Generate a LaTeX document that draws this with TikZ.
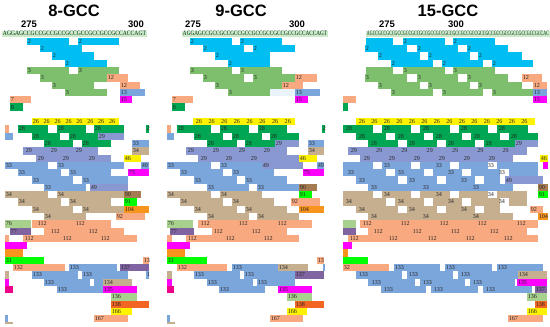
\documentclass[tikz,border=0pt]{standalone}
\usepackage{fontspec}
\usepackage{graphicx}
\newfontfamily\headfont{Liberation Sans}
\newfontfamily\labfont{Liberation Serif}

\definecolor{pepcyan}{HTML}{00BDF2}
\definecolor{pepgreen}{HTML}{7DBF6C}
\definecolor{pepdkgreen}{HTML}{00A651}
\definecolor{pepyel}{HTML}{FFF200}
\definecolor{pepperi}{HTML}{8A98D2}
\definecolor{pepblue}{HTML}{7BA6DC}
\definecolor{peptan}{HTML}{C6AF8F}
\definecolor{pepsalmon}{HTML}{F9A97F}
\definecolor{pepmag}{HTML}{FF00FF}
\definecolor{pepbrown}{HTML}{A57C52}
\definecolor{peplime}{HTML}{00FF00}
\definecolor{peporange}{HTML}{F7941D}
\definecolor{peppurple}{HTML}{8064A2}
\definecolor{pepltgreen}{HTML}{A9D18E}
\definecolor{pepredor}{HTML}{F26522}
\definecolor{pepdpink}{HTML}{EC008C}
\definecolor{peppale}{HTML}{EAF3FA}
\definecolor{seqbg}{HTML}{CDE9C8}

\tikzset{
  lab/.style={anchor=west,inner sep=0.6pt,text=black!85,font=\labfont\fontsize{6.1}{6.5}\selectfont},
  head/.style={font=\headfont\bfseries\fontsize{16.5}{18}\selectfont},
  posmark/.style={font=\headfont\bfseries\fontsize{9.5}{10}\selectfont},
  seq/.style={inner sep=0pt,text=black!70!pepdkgreen,font=\labfont}
}
% one row of the map is 7.3 high, row 0 starts at 37.7
\newcommand\band[4]{\fill[#4] ({#1},{37.7+7.3*(#3)}) rectangle ({#2},{45+7.3*(#3)});}
\newcommand\numat[3]{\node[lab] at ({#1},{41.35+7.3*(#2)}) {#3};}
\newcommand\pep[5]{\band{#1}{#2}{#3}{#4}\numat{#1}{#3}{#5}}
\newcommand\nums[3]{\foreach \h in {#1} {\numat{\h}{#2}{#3}}}
\newcommand\holes[3]{\foreach \h in {#1} {\fill[white] (\h,{37.7+7.3*(#3)}) rectangle ({\h+#2},{45+7.3*(#3)});}}

\begin{document}
\begin{tikzpicture}[x=1pt,y=-1pt]
\useasboundingbox (0,0) rectangle (550,327);

% 8-GCC
\node[head] (t1) at (74,11) {8-GCC};
\node[posmark] (p1a) at (29,24) {275};
\node[posmark] (p1b) at (136,24) {300};
\fill[seqbg] (2,30.5) rectangle (147,36.8);
\node[seq] (s1) at (74.5,33.7) {\resizebox{143pt}{4.6pt}{AGGAGCCGCCGCCGCCGCCGCCGCCGCCGCCACCAGT}};

\pep{27}{69}{0}{pepcyan}{2} \pep{78}{119}{0}{pepcyan}{2}
\pep{40}{82}{1}{pepcyan}{2}
\pep{52}{94}{2}{pepcyan}{2}
\pep{65}{107}{3}{pepcyan}{2}
\pep{27}{69}{4}{pepgreen}{3} \pep{78}{119}{4}{pepgreen}{3}
\pep{40}{107}{5}{pepgreen}{3} \pep{107}{128}{5}{pepsalmon}{12}
\pep{52}{94}{6}{pepgreen}{3} \pep{120}{140}{6}{pepsalmon}{12}
\pep{65}{107}{7}{pepgreen}{3} \pep{120}{145}{7}{pepblue}{13}
\pep{10}{31}{8}{pepsalmon}{7} \pep{120}{132}{8}{pepmag}{15}
\pep{10}{23}{9}{pepdkgreen}{8}

\band{32}{119}{11}{pepyel}
\foreach \k in {0,...,7} {\numat{32+10.9*\k}{11}{26}}
\band{5}{9}{12}{pepsalmon} \pep{18}{48}{12}{pepdkgreen}{28} \pep{57}{86}{12}{pepdkgreen}{28} \pep{94}{124}{12}{pepdkgreen}{28} \pep{146}{149}{12}{pepdkgreen}{2}
\band{5}{13}{13}{pepblue} \pep{32}{60}{13}{pepdkgreen}{28} \pep{69}{98}{13}{pepdkgreen}{28} \pep{98}{124}{13}{pepperi}{29}
\pep{44}{73}{14}{pepdkgreen}{28} \pep{82}{111}{14}{pepdkgreen}{28} \pep{132}{149}{14}{pepblue}{33}
\band{23}{98}{15}{pepperi} \nums{25,50,75}{15}{29} \pep{132}{149}{15}{peptan}{34}
\band{36}{111}{16}{pepperi} \nums{37,62,88}{16}{29} \pep{124}{141}{16}{pepyel}{46}
\pep{5}{48}{17}{pepblue}{33} \pep{57}{124}{17}{pepblue}{33} \pep{141}{149}{17}{pepblue}{49}
\pep{18}{61}{18}{pepblue}{33} \pep{69}{111}{18}{pepblue}{33} \pep{128}{149}{18}{pepmag}{75}
\pep{32}{73}{19}{pepblue}{33} \pep{82}{128}{19}{pepblue}{33}
\pep{44}{86}{20}{pepblue}{33} \pep{90}{128}{20}{pepperi}{49}
\pep{5}{48}{21}{peptan}{34} \pep{57}{124}{21}{peptan}{34} \pep{124}{141}{21}{pepbrown}{90}
\pep{18}{61}{22}{peptan}{34} \pep{69}{111}{22}{peptan}{34} \pep{124}{137}{22}{peplime}{91}
\pep{32}{73}{23}{peptan}{34} \pep{82}{124}{23}{peptan}{34} \pep{124}{149}{23}{peporange}{104}
\pep{44}{86}{24}{peptan}{34} \pep{116}{145}{24}{pepsalmon}{92}
\pep{5}{31}{25}{pepltgreen}{76} \band{32}{111}{25}{pepsalmon} \nums{37,75}{25}{112}
\pep{10}{31}{26}{peppurple}{77} \band{44}{124}{26}{pepsalmon} \nums{50,88}{26}{112}
\band{5}{9}{27}{pepsalmon} \band{23}{137}{27}{pepsalmon} \nums{24,62,100}{27}{112}
\band{5}{27}{28}{pepmag}
\band{5}{23}{29}{peporange}
\pep{5}{44}{30}{peplime}{31} \pep{143}{149}{30}{pepsalmon}{13}
\pep{13}{65}{31}{pepsalmon}{132} \pep{69}{117}{31}{pepblue}{133} \pep{120}{149}{31}{peppurple}{137}
\band{5}{9}{32}{peptan} \pep{32}{78}{32}{pepblue}{133} \pep{82}{128}{32}{pepblue}{133} \pep{146}{149}{32}{pepblue}{1}
\band{5}{9}{33}{pepmag} \pep{44}{90}{33}{pepblue}{133} \band{94}{103}{33}{pepblue} \pep{103}{132}{33}{peptan}{134}
\band{5}{13}{34}{pepdpink} \pep{57}{103}{34}{pepblue}{133} \pep{103}{137}{34}{pepmag}{135}
\pep{111}{137}{35}{pepltgreen}{136}
\pep{111}{149}{36}{pepredor}{138}
\pep{111}{132}{37}{pepyel}{166}
\band{5}{8}{38}{pepblue} \fill[peptan] (5,322.4) rectangle (13,324);
\pep{94}{128}{38}{pepsalmon}{167}

% 9-GCC
\node[head] (t2) at (241,11) {9-GCC};
\node[posmark] (p2a) at (193,24) {275};
\node[posmark] (p2b) at (297,24) {300};
\fill[seqbg] (182,30.5) rectangle (328,36.8);
\node[seq] (s2) at (255,33.7) {\resizebox{144pt}{4.6pt}{AGGAGCCGCCGCCGCCGCCGCCGCCGCCGCCGCCACCAGT}};

\pep{190}{232}{0}{pepcyan}{2} \pep{240}{282}{0}{pepcyan}{2}
\pep{203}{244}{1}{pepcyan}{2} \pep{253}{295}{1}{pepcyan}{2}
\pep{215}{270}{2}{pepcyan}{2}
\pep{228}{270}{3}{pepcyan}{2}
\pep{190}{232}{4}{pepgreen}{3} \pep{240}{282}{4}{pepgreen}{3}
\pep{203}{244}{5}{pepgreen}{3} \pep{253}{295}{5}{pepgreen}{3} \pep{295}{317}{5}{pepsalmon}{12}
\pep{215}{282}{6}{pepgreen}{3} \pep{282}{303}{6}{pepsalmon}{12}
\pep{228}{270}{7}{pepgreen}{3} \band{270}{295}{7}{peppale} \pep{295}{320}{7}{pepblue}{13}
\pep{172}{193}{8}{pepsalmon}{7} \pep{295}{308}{8}{pepmag}{15}
\pep{172}{185}{9}{pepdkgreen}{8}

\band{193}{295}{11}{pepyel}
\foreach \k in {0,...,7} {\numat{195+12.7*\k}{11}{26}}
\band{167}{171}{12}{pepsalmon} \pep{177}{211}{12}{pepdkgreen}{28} \pep{220}{249}{12}{pepdkgreen}{28} \pep{258}{287}{12}{pepdkgreen}{28} \pep{322}{325}{12}{pepdkgreen}{2}
\band{167}{174}{13}{pepblue} \pep{194}{223}{13}{pepdkgreen}{28} \pep{232}{262}{13}{pepdkgreen}{28} \pep{270}{299}{13}{pepdkgreen}{28}
\pep{207}{237}{14}{pepdkgreen}{28} \pep{245}{275}{14}{pepdkgreen}{28} \pep{275}{299}{14}{pepperi}{29} \pep{308}{324}{14}{pepblue}{33}
\band{186}{287}{15}{pepperi} \nums{187,212,238,263}{15}{29} \pep{308}{324}{15}{peptan}{34}
\band{198}{299}{16}{pepperi} \nums{200,225,250}{16}{29} \pep{299}{317}{16}{pepyel}{46}
\pep{167}{211}{17}{pepblue}{33} \pep{220}{262}{17}{pepblue}{33} \pep{262}{303}{17}{pepperi}{49} \pep{317}{324}{17}{pepblue}{49}
\pep{180}{223}{18}{pepblue}{33} \pep{232}{274}{18}{pepblue}{33} \pep{303}{324}{18}{pepmag}{75}
\pep{194}{237}{19}{pepblue}{33} \pep{245}{287}{19}{pepblue}{33}
\pep{207}{249}{20}{pepblue}{33} \pep{257}{299}{20}{pepblue}{33} \pep{299}{317}{20}{pepbrown}{90}
\pep{167}{211}{21}{peptan}{34} \pep{220}{262}{21}{peptan}{34} \pep{299}{312}{21}{peplime}{91}
\pep{180}{223}{22}{peptan}{34} \pep{232}{274}{22}{peptan}{34} \pep{291}{320}{22}{pepsalmon}{92}
\pep{194}{237}{23}{peptan}{34} \pep{245}{287}{23}{peptan}{34} \pep{299}{324}{23}{peporange}{104}
\pep{207}{249}{24}{peptan}{34} \pep{257}{299}{24}{peptan}{34}
\pep{167}{193}{25}{pepltgreen}{76} \band{198}{312}{25}{pepsalmon} \nums{200,238,277}{25}{112}
\pep{170}{194}{26}{peppurple}{77} \band{212}{287}{26}{pepsalmon} \nums{213,251}{26}{112}
\band{167}{172}{27}{pepsalmon} \band{186}{299}{27}{pepsalmon} \nums{187,225,263}{27}{112}
\band{167}{190}{28}{pepmag}
\band{167}{185}{29}{peporange}
\pep{167}{207}{30}{peplime}{31} \pep{317}{324}{30}{pepsalmon}{13}
\pep{177}{227}{31}{pepsalmon}{132} \pep{232}{278}{31}{pepblue}{133} \pep{278}{308}{31}{peptan}{134} \band{323}{325}{31}{pepblue}
\band{167}{172}{32}{peptan} \pep{194}{240}{32}{pepblue}{133} \pep{244}{295}{32}{pepblue}{133} \pep{295}{324}{32}{peppurple}{137}
\band{167}{172}{33}{pepmag} \pep{207}{253}{33}{pepblue}{133} \pep{257}{295}{33}{pepblue}{133}
\band{167}{174}{34}{pepdpink} \pep{219}{265}{34}{pepblue}{133} \pep{278}{312}{34}{pepmag}{135}
\pep{287}{312}{35}{pepltgreen}{136}
\pep{295}{324}{36}{pepredor}{138}
\pep{287}{307}{37}{pepyel}{166}
\band{167}{170}{38}{pepblue} \fill[peptan] (167,322.4) rectangle (175,324);
\pep{270}{303}{38}{pepsalmon}{167}

% 15-GCC
\node[head] (t3) at (448,11) {15-GCC};
\node[posmark] (p3a) at (387,24) {275};
\node[posmark] (p3b) at (456,24) {300};
\fill[seqbg] (366,30.5) rectangle (550,36.8);
\node[seq] (s3) at (458,33.7) {\resizebox{182pt}{4.6pt}{AGCCGCCGCCGCCGCCGCCGCCGCCGCCGCCGCCGCCGCCGCCGCCGCCGCCGCCGCCGCCGCCAC}};

\band{366}{393}{0}{pepcyan} \pep{403}{445}{0}{pepcyan}{2} \pep{453}{495}{0}{pepcyan}{2}
\pep{365}{407}{1}{pepcyan}{2} \pep{417}{458}{1}{pepcyan}{2} \pep{467}{508}{1}{pepcyan}{2}
\pep{378}{420}{2}{pepcyan}{2} \pep{428}{470}{2}{pepcyan}{2} \pep{478}{522}{2}{pepcyan}{2}
\pep{391}{433}{3}{pepcyan}{2} \pep{442}{483}{3}{pepcyan}{2} \pep{492}{533}{3}{pepcyan}{2}
\band{366}{393}{4}{pepgreen} \pep{403}{445}{4}{pepgreen}{3} \pep{453}{495}{4}{pepgreen}{3}
\pep{365}{407}{5}{pepgreen}{3} \pep{417}{458}{5}{pepgreen}{3} \pep{467}{508}{5}{pepgreen}{3} \pep{522}{542}{5}{pepsalmon}{12}
\pep{378}{420}{6}{pepgreen}{3} \pep{428}{470}{6}{pepgreen}{3} \pep{478}{522}{6}{pepgreen}{3} \pep{533}{547}{6}{pepsalmon}{12}
\pep{391}{433}{7}{pepgreen}{3} \pep{442}{483}{7}{pepgreen}{3} \pep{492}{533}{7}{pepgreen}{3} \pep{533}{547}{7}{pepblue}{13}
\band{343}{356}{8}{pepsalmon} \pep{533}{547}{8}{pepmag}{15}
\band{343}{348}{9}{pepdkgreen}

\band{356}{535}{11}{pepyel}
\foreach \k in {0,...,13} {\numat{358+12.5*\k}{11}{26}}
\band{343}{528}{12}{pepdkgreen} \holes{373,411,450,488}{9}{12} \nums{345,383,422,460,498}{12}{28}
\band{356}{538}{13}{pepdkgreen} \holes{386,424,462,500}{9}{13} \nums{358,397,435,473,510}{13}{28}
\band{368}{515}{14}{pepdkgreen} \holes{398,437,475}{9}{14} \nums{370,408,447,485}{14}{28} \pep{515}{538}{14}{pepperi}{29}
\band{348}{527}{15}{pepperi} \foreach \k in {0,...,6} {\numat{350+25.3*\k}{15}{29}}
\band{360}{513}{16}{pepperi} \foreach \k in {0,...,5} {\numat{363+25*\k}{16}{29}} \pep{540}{548}{16}{pepyel}{46}
\band{343}{538}{17}{pepblue} \holes{373,411,450,488}{9}{17} \nums{383,435,487}{17}{33} \band{543}{548}{17}{pepmag}
\band{343}{538}{18}{pepblue} \holes{386,424,462,500}{9}{18} \nums{347,397,447,498}{18}{33}
\band{356}{500}{19}{pepblue} \holes{398,437,475}{9}{19} \nums{358,408,460}{19}{33} \pep{505}{543}{19}{pepperi}{49}
\band{368}{513}{20}{pepblue} \nums{370,422,472}{20}{33} \pep{538}{548}{20}{pepbrown}{90}
\band{343}{527}{21}{peptan} \holes{373,411,450,488}{9}{21} \nums{383,435,487}{21}{34} \pep{538}{548}{21}{peplime}{91}
\band{343}{527}{22}{peptan} \holes{386,424,462,500}{9}{22} \nums{345,397,447,498}{22}{34}
\band{356}{500}{23}{peptan} \holes{398,437,475}{9}{23} \nums{358,408,460}{23}{34} \pep{530}{543}{23}{pepsalmon}{92}
\band{368}{513}{24}{peptan} \nums{370,422,472}{24}{34} \pep{538}{548}{24}{peporange}{104}
\band{343}{356}{25}{pepltgreen} \band{360}{538}{25}{pepsalmon} \nums{362,400,439,477,516}{25}{112}
\band{343}{356}{26}{peppurple} \band{368}{527}{26}{pepsalmon} \nums{373,412,450,489}{26}{112}
\band{348}{538}{27}{pepsalmon} \nums{349,388,427,465,503}{27}{112}
\band{343}{352}{28}{pepmag}
\band{343}{348}{29}{peporange}
\band{343}{368}{30}{peplime}
\pep{343}{389}{31}{pepsalmon}{32} \pep{394}{440}{31}{pepblue}{133} \pep{445}{492}{31}{pepblue}{133} \pep{497}{543}{31}{pepblue}{133}
\band{356}{518}{32}{pepblue} \holes{402,453}{5}{32} \nums{358,408,460}{32}{133} \pep{518}{547}{32}{peptan}{134}
\band{368}{515}{33}{pepblue} \holes{415,465}{5}{33} \nums{371,422,472}{33}{133} \pep{517}{547}{33}{pepmag}{135}
\band{381}{532}{34}{pepblue} \holes{426,478}{5}{34} \nums{383,433,485}{34}{133} \pep{535}{547}{34}{peppurple}{137}
\pep{527}{547}{35}{pepltgreen}{136}
\pep{535}{547}{36}{pepredor}{138}
\pep{527}{547}{37}{pepyel}{166}
\pep{508}{543}{38}{pepsalmon}{167}
\end{tikzpicture}
\end{document}
